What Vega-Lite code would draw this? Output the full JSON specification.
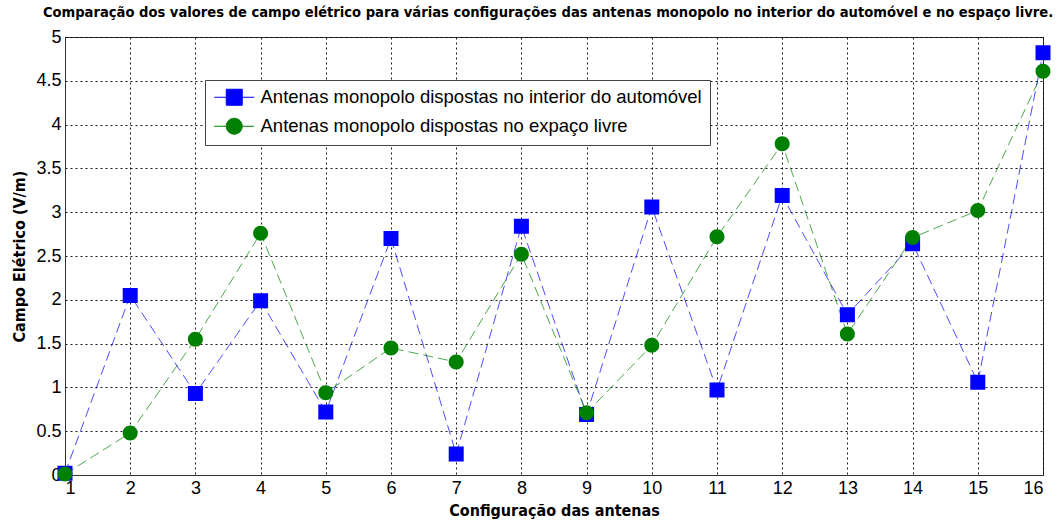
{
  "$schema": "https://vega.github.io/schema/vega-lite/v6.json",
  "autosize": {"type": "none"},
  "width": 978,
  "height": 438,
  "padding": {"left": 65, "top": 37, "right": 19, "bottom": 50},
  "background": "white",
  "title": {
    "text": "Comparação dos valores de campo elétrico para várias configurações das antenas monopolo no interior do automóvel e no espaço livre.",
    "font": "DejaVu Sans Condensed",
    "fontSize": 14.6,
    "fontWeight": "bold",
    "color": "black",
    "anchor": "middle",
    "dx": -6,
    "offset": 8
  },
  "data": {
    "values": [
      {"config": 1, "serie": "Antenas monopolo dispostas no interior do automóvel", "valor": 0.02},
      {"config": 2, "serie": "Antenas monopolo dispostas no interior do automóvel", "valor": 2.05},
      {"config": 3, "serie": "Antenas monopolo dispostas no interior do automóvel", "valor": 0.93},
      {"config": 4, "serie": "Antenas monopolo dispostas no interior do automóvel", "valor": 1.99},
      {"config": 5, "serie": "Antenas monopolo dispostas no interior do automóvel", "valor": 0.72},
      {"config": 6, "serie": "Antenas monopolo dispostas no interior do automóvel", "valor": 2.70},
      {"config": 7, "serie": "Antenas monopolo dispostas no interior do automóvel", "valor": 0.24},
      {"config": 8, "serie": "Antenas monopolo dispostas no interior do automóvel", "valor": 2.84},
      {"config": 9, "serie": "Antenas monopolo dispostas no interior do automóvel", "valor": 0.69},
      {"config": 10, "serie": "Antenas monopolo dispostas no interior do automóvel", "valor": 3.06},
      {"config": 11, "serie": "Antenas monopolo dispostas no interior do automóvel", "valor": 0.97},
      {"config": 12, "serie": "Antenas monopolo dispostas no interior do automóvel", "valor": 3.19},
      {"config": 13, "serie": "Antenas monopolo dispostas no interior do automóvel", "valor": 1.83},
      {"config": 14, "serie": "Antenas monopolo dispostas no interior do automóvel", "valor": 2.64},
      {"config": 15, "serie": "Antenas monopolo dispostas no interior do automóvel", "valor": 1.06},
      {"config": 16, "serie": "Antenas monopolo dispostas no interior do automóvel", "valor": 4.82},
      {"config": 1, "serie": "Antenas monopolo dispostas no expaço livre", "valor": 0.01},
      {"config": 2, "serie": "Antenas monopolo dispostas no expaço livre", "valor": 0.48},
      {"config": 3, "serie": "Antenas monopolo dispostas no expaço livre", "valor": 1.55},
      {"config": 4, "serie": "Antenas monopolo dispostas no expaço livre", "valor": 2.76},
      {"config": 5, "serie": "Antenas monopolo dispostas no expaço livre", "valor": 0.94},
      {"config": 6, "serie": "Antenas monopolo dispostas no expaço livre", "valor": 1.45},
      {"config": 7, "serie": "Antenas monopolo dispostas no expaço livre", "valor": 1.29},
      {"config": 8, "serie": "Antenas monopolo dispostas no expaço livre", "valor": 2.52},
      {"config": 9, "serie": "Antenas monopolo dispostas no expaço livre", "valor": 0.71},
      {"config": 10, "serie": "Antenas monopolo dispostas no expaço livre", "valor": 1.48},
      {"config": 11, "serie": "Antenas monopolo dispostas no expaço livre", "valor": 2.72},
      {"config": 12, "serie": "Antenas monopolo dispostas no expaço livre", "valor": 3.78},
      {"config": 13, "serie": "Antenas monopolo dispostas no expaço livre", "valor": 1.61},
      {"config": 14, "serie": "Antenas monopolo dispostas no expaço livre", "valor": 2.71},
      {"config": 15, "serie": "Antenas monopolo dispostas no expaço livre", "valor": 3.02},
      {"config": 16, "serie": "Antenas monopolo dispostas no expaço livre", "valor": 4.61}
    ]
  },
  "encoding": {
    "x": {
      "field": "config",
      "type": "quantitative",
      "scale": {"domain": [1, 16], "nice": false, "zero": false},
      "axis": {
        "title": "Configuração das antenas",
        "values": [1, 2, 3, 4, 5, 6, 7, 8, 9, 10, 11, 12, 13, 14, 15, 16],
        "format": "d",
        "labelFontSize": 18,
        "labelPadding": 4,
        "titlePadding": 5,
        "titleFontSize": 16,
        "titleFont": "DejaVu Sans Condensed"
      }
    },
    "y": {
      "field": "valor",
      "type": "quantitative",
      "scale": {"domain": [0, 5], "nice": false},
      "axis": {
        "title": "Campo Elétrico (V/m)",
        "values": [0, 0.5, 1, 1.5, 2, 2.5, 3, 3.5, 4, 4.5, 5],
        "format": "~g",
        "labelFontSize": 18,
        "labelPadding": 4,
        "titlePadding": 8,
        "titleFontSize": 16,
        "titleFont": "DejaVu Sans Condensed"
      }
    }
  },
  "layer": [
    {
      "transform": [{"filter": "datum.serie === 'Antenas monopolo dispostas no interior do automóvel'"}],
      "mark": {"type": "line", "strokeWidth": 1, "strokeDash": [10, 5], "color": "#0000ff", "opacity": 0.7}
    },
    {
      "transform": [{"filter": "datum.serie === 'Antenas monopolo dispostas no expaço livre'"}],
      "mark": {"type": "line", "strokeWidth": 1, "strokeDash": [10, 5], "color": "#008000", "opacity": 0.7}
    },
    {
      "mark": {"type": "point", "filled": true, "opacity": 1, "size": 225, "strokeWidth": 0},
      "encoding": {
        "color": {
          "field": "serie",
          "type": "nominal",
          "scale": {
            "domain": ["Antenas monopolo dispostas no interior do automóvel", "Antenas monopolo dispostas no expaço livre"],
            "range": ["#0000ff", "#008000"]
          },
          "legend": {
            "encode": {
              "symbols": {
                "update": {
                  "stroke": {"scale": "color", "field": "value"},
                  "strokeWidth": {"value": 1},
                  "opacity": {"value": 1}
                }
              }
            }
          }
        },
        "shape": {
          "field": "serie",
          "type": "nominal",
          "scale": {
            "domain": ["Antenas monopolo dispostas no interior do automóvel", "Antenas monopolo dispostas no expaço livre"],
            "range": [
              "M-2.5,0H-1M1,0H2.5M-1,-1H1V1H-1Z",
              "M-2.5,0H-1M1,0H2.5M-1,0A1,1 0 1,0 1,0A1,1 0 1,0 -1,0Z"
            ]
          }
        }
      }
    }
  ],
  "config": {
    "font": "Liberation Sans",
    "view": {"stroke": "#333333", "strokeWidth": 1},
    "legend": {
      "title": null,
      "orient": "none",
      "legendX": 140,
      "legendY": 43,
      "direction": "vertical",
      "padding": 8,
      "strokeColor": "#444444",
      "fillColor": "white",
      "labelFont": "Liberation Sans",
      "labelFontSize": 18.5,
      "labelColor": "black",
      "labelLimit": 600,
      "symbolSize": 256,
      "symbolOffset": 12,
      "labelOffset": 17,
      "rowPadding": 8,
      "symbolStrokeWidth": 1,
      "symbolOpacity": 1
    },
    "axis": {
      "labelColor": "black",
      "titleColor": "black",
      "titleFontWeight": "bold",
      "domainColor": "#333333",
      "ticks": false,
      "grid": true,
      "gridColor": "black",
      "gridDash": [2, 3],
      "gridOpacity": 0.9,
      "gridWidth": 1,
      "labelFont": "Liberation Sans"
    }
  }
}
